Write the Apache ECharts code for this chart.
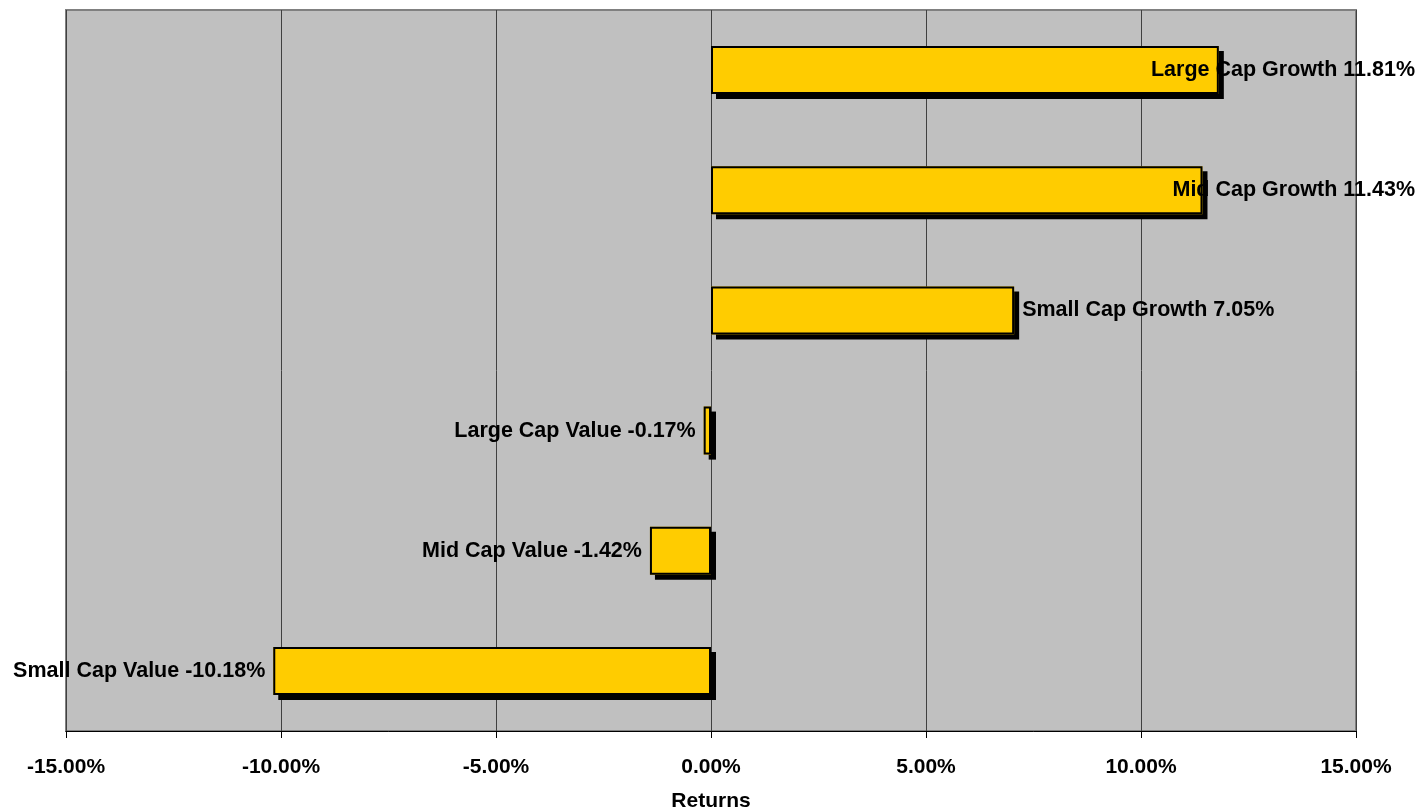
<!DOCTYPE html>
<html>
<head>
<meta charset="utf-8">
<script src="https://cdn.jsdelivr.net/npm/echarts@6/dist/echarts.min.js"></script>
<style>
html,body{margin:0;padding:0;background:#fff;}
#chart{width:1421px;height:812px;}
</style>
</head>
<body>
<div id="chart"></div>
<script>
// bottom-to-top order (ECharts category y axis starts at bottom)
var categories = ['Small Cap Value', 'Mid Cap Value', 'Large Cap Value', 'Small Cap Growth', 'Mid Cap Growth', 'Large Cap Growth'];
var returns = [-10.18, -1.42, -0.17, 7.05, 11.43, 11.81];
var xTicks = [-15, -10, -5, 0, 5, 10, 15];

var chart = echarts.init(document.getElementById('chart'), null, {renderer: 'canvas'});
var font = '"Liberation Sans", Arial, sans-serif';
var fs = 21;

var option = {
  animation: false,
  backgroundColor: '#ffffff',
  grid: {
    left: 66, right: 65, top: 10, bottom: 81,
    outerBoundsMode: 'none',
    containLabel: false,
    show: true,
    backgroundColor: '#C0C0C0',
    borderColor: '#808080',
    borderWidth: 2
  },
  xAxis: {
    type: 'value',
    min: xTicks[0],
    max: xTicks[xTicks.length - 1],
    interval: 5,
    name: 'Returns',
    nameLocation: 'middle',
    nameGap: 60,
    nameTextStyle: {fontFamily: font, fontWeight: 'bold', fontSize: 21, color: '#000'},
    axisLine: {show: true, onZero: false, lineStyle: {color: '#000', width: 1}},
    axisTick: {show: true, length: 7, lineStyle: {color: '#000'}},
    axisLabel: {
      margin: 26,
      fontFamily: font, fontWeight: 'bold', fontSize: fs, color: '#000',
      formatter: function (v) { return v.toFixed(2) + '%'; }
    },
    splitLine: {show: true, lineStyle: {color: '#404040', width: 1}}
  },
  yAxis: {
    type: 'category',
    data: categories,
    axisLine: {show: false},
    axisTick: {show: false},
    axisLabel: {show: false},
    splitLine: {show: false}
  },
  series: [{
    // filled bars with drop shadow
    type: 'bar',
    barCategoryGap: '60%',
    data: returns,
    silent: true,
    itemStyle: {
      color: '#FFCC00',
      borderWidth: 0,
      shadowColor: '#000',
      shadowBlur: 0,
      shadowOffsetX: 5,
      shadowOffsetY: 5
    },
    z: 2
  }, {
    // outlines and labels drawn on top
    type: 'bar',
    barGap: '-100%',
    barCategoryGap: '60%',
    data: returns.map(function (v) {
      return {value: v, label: {position: v >= 0 ? 'right' : 'left'}};
    }),
    itemStyle: {
      color: 'rgba(0,0,0,0)',
      borderColor: '#000',
      borderWidth: 2
    },
    z: 3,
    label: {
      show: true,
      distance: 8,
      fontFamily: font, fontWeight: 'bold', fontSize: 21.5, color: '#000',
      formatter: function (p) { return p.name + ' ' + p.value.toFixed(2) + '%'; }
    },
    labelLayout: function (params) {
      var r = params.labelRect;
      var limit = chart.getWidth() - 6;
      if (r.x + r.width > limit) {
        return {x: limit - r.width, y: r.y, align: 'left', verticalAlign: 'top'};
      }
      return {};
    }
  }]
};
chart.setOption(option);
</script>
</body>
</html>
